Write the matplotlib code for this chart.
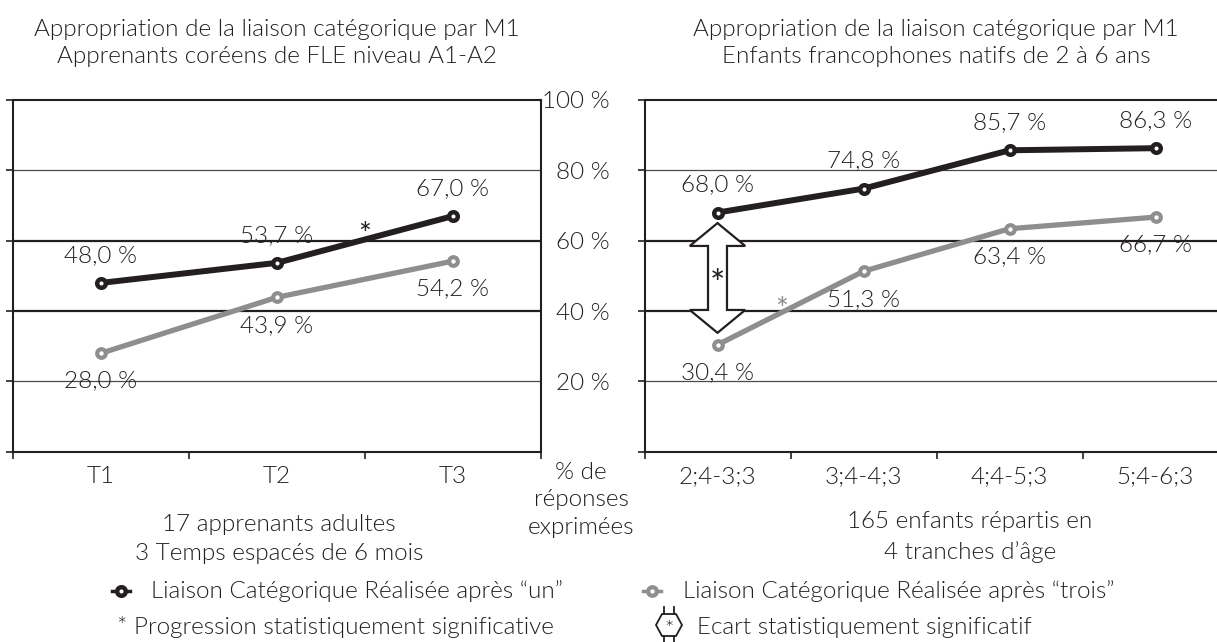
import numpy as np
import matplotlib
matplotlib.use("Agg")
import matplotlib.pyplot as plt
from matplotlib.patches import Polygon
from matplotlib.lines import Line2D

# --- data ---
adult_times = ["T1", "T2", "T3"]
adult_un = [48.0, 53.7, 67.0]
adult_trois = [28.0, 43.9, 54.2]

child_ages = ["2;4-3;3", "3;4-4;3", "4;4-5;3", "5;4-6;3"]
child_un = [68.0, 74.8, 85.7, 86.3]
child_trois = [30.4, 51.3, 63.4, 66.7]

y_ticks = [0, 20, 40, 60, 80, 100]
y_tick_labels = ["", "20 %", "40 %", "60 %", "80 %", "100 %"]

BLACK = "#231f20"
GREY = "#8c8e90"
TXT = "#231f20"
FS = 17.5      # running text
FSN = 17.5     # numbers

plt.rcParams["font.family"] = ["Lato", "DejaVu Sans"]
plt.rcParams["font.weight"] = 300   # Lato Light, close to the Gill Sans Light of the original
plt.rcParams["text.color"] = TXT

W, H = 1217, 642
fig = plt.figure(figsize=(W / 100, H / 100), dpi=100)


def fx(x):
    return x / W


def fy(y):
    return 1 - y / H


def fmt(v):
    return f"{v:.1f} %".replace(".", ",")


y0, y100 = 451.7, 100.0
ax1 = fig.add_axes([fx(13), fy(y0), 528 / W, (y0 - y100) / H])
ax2 = fig.add_axes([fx(644.5), fy(y0), 584 / W, (y0 - y100) / H])


def setup(ax, cats):
    n = len(cats)
    ax.set_xlim(0, n)
    ax.set_ylim(0, 100)
    for v in y_ticks[1:-1]:
        if v in (40, 60):
            ax.axhline(v, color=BLACK, lw=1.6, zorder=1)
        else:
            ax.axhline(v, color="#4a4a4a", lw=0.9, zorder=1)
    for s in ax.spines.values():
        s.set_color(BLACK)
        s.set_linewidth(1.5)
    ax.set_yticks(y_ticks)
    ax.tick_params(axis="y", direction="out", length=5, width=1.2, color=BLACK)
    ax.set_xticks(np.arange(n + 1))
    ax.set_xticklabels([])
    ax.tick_params(axis="x", which="major", direction="out", length=5, width=1.2, color=BLACK)
    ax.set_xticks(np.arange(n) + 0.5, minor=True)
    ax.set_xticklabels(cats, minor=True, fontsize=FSN, color=TXT)
    ax.tick_params(axis="x", which="minor", length=0, pad=10)


def draw_series(ax, un, trois):
    x = np.arange(len(un)) + 0.5
    ax.plot(x, trois, color=GREY, lw=3.8, marker="o", ms=6.2, mew=3.0,
            mfc="white", mec=GREY, solid_capstyle="round", zorder=3)
    ax.plot(x, un, color=BLACK, lw=4.3, marker="o", ms=6.2, mew=3.2,
            mfc="white", mec=BLACK, solid_capstyle="round", zorder=4)
    for xi, v in zip(x, un):
        ax.annotate(fmt(v), (xi, v), xytext=(0, 20), textcoords="offset points",
                    ha="center", va="center", fontsize=FSN, color=TXT, zorder=5)
    for xi, v in zip(x, trois):
        ax.annotate(fmt(v), (xi, v), xytext=(0, -20), textcoords="offset points",
                    ha="center", va="center", fontsize=FSN, color=TXT, zorder=5)


def star(ax, x, y, color, size=22):
    # asterisk glyph sits high in its box, so nudge the box down
    ax.annotate("*", (x, y), xytext=(0, -0.23 * size), textcoords="offset points",
                ha="center", va="center", fontsize=size, color=color,
                fontweight=400, zorder=7)


setup(ax1, adult_times)
setup(ax2, child_ages)
ax1.tick_params(axis="y", labelleft=False)
ax2.set_yticklabels(y_tick_labels, fontsize=FSN, color=TXT)
ax2.tick_params(axis="y", pad=20)

draw_series(ax1, adult_un, adult_trois)
draw_series(ax2, child_un, child_trois)

# significance marks
star(ax1, 2.0, 63.6, BLACK)
star(ax2, 0.94, 42.4, GREY)

# outlined double arrow between the two series at the first age band
top = child_un[0] - 3.0
bot = child_trois[0] + 3.4
head, hw, sw, xc = 6.5, 0.19, 0.065, 0.5
arrow = Polygon([
    (xc, top), (xc + hw, top - head), (xc + sw, top - head),
    (xc + sw, bot + head), (xc + hw, bot + head), (xc, bot),
    (xc - hw, bot + head), (xc - sw, bot + head),
    (xc - sw, top - head), (xc - hw, top - head)],
    closed=True, facecolor="white", edgecolor=BLACK, lw=1.6, zorder=6)
ax2.add_patch(arrow)
star(ax2, xc, (top + bot) / 2 + 0.3, BLACK, size=26)

# titles
fig.text(fx(277), fy(43), "Appropriation de la liaison catégorique par M1\n"
         "Apprenants coréens de FLE niveau A1-A2",
         ha="center", va="center", fontsize=FS, linespacing=1.35)
fig.text(fx(936), fy(43), "Appropriation de la liaison catégorique par M1\n"
         "Enfants francophones natifs de 2 à 6 ans",
         ha="center", va="center", fontsize=FS, linespacing=1.35)

# axis notes
fig.text(fx(581), fy(500), "% de\nréponses\nexprimées", ha="center", va="center",
         fontsize=FS, linespacing=1.4)
fig.text(fx(279), fy(539), "17 apprenants adultes\n3 Temps espacés de 6 mois",
         ha="center", va="center", fontsize=FS, linespacing=1.5)
fig.text(fx(970), fy(537), "165 enfants répartis en\n4 tranches d\u2019âge",
         ha="center", va="center", fontsize=FS, linespacing=1.5)

# legend
fig.add_artist(Line2D([fx(112), fx(130)], [fy(591), fy(591)], color=BLACK, lw=2.5))
fig.add_artist(Line2D([fx(121)], [fy(591)], color=BLACK, marker="o", ms=6.2, mew=3.2,
                      mfc="white", mec=BLACK, ls="none"))
fig.text(fx(151), fy(591), "Liaison Catégorique Réalisée après \u201cun\u201d",
         ha="left", va="center", fontsize=FS)
fig.text(fx(117), fy(627), "* Progression statistiquement significative",
         ha="left", va="center", fontsize=FS)

fig.add_artist(Line2D([fx(643), fx(661)], [fy(591), fy(591)], color=GREY, lw=2.5))
fig.add_artist(Line2D([fx(652)], [fy(591)], color=GREY, marker="o", ms=6.2, mew=3.0,
                      mfc="white", mec=GREY, ls="none"))
fig.text(fx(683), fy(591), "Liaison Catégorique Réalisée après \u201ctrois\u201d",
         ha="left", va="center", fontsize=FS)

icon = [(656, 625), (662, 614), (676, 614), (682, 625), (676, 636), (662, 636)]
fig.add_artist(Polygon([(fx(a), fy(b)) for a, b in icon], closed=True,
                       facecolor="white", edgecolor=BLACK, lw=1.3))
for a in (664, 674):
    fig.add_artist(Line2D([fx(a), fx(a)], [fy(607), fy(614)], color=BLACK, lw=1.3))
    fig.add_artist(Line2D([fx(a), fx(a)], [fy(636), fy(643)], color=BLACK, lw=1.3))
fig.text(fx(669), fy(630), "*", ha="center", va="center", fontsize=16, color=BLACK)
fig.text(fx(697), fy(627), "Ecart statistiquement significatif",
         ha="left", va="center", fontsize=FS)

fig.savefig("out.png", dpi=100)
